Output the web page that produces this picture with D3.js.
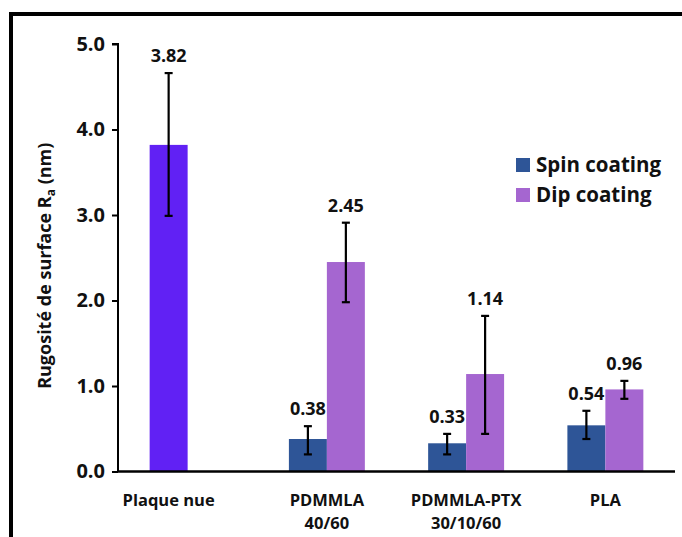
<!DOCTYPE html>
<html>
<head>
<meta charset="utf-8">
<script src="https://cdn.jsdelivr.net/npm/d3@7"></script>
<style>
  body { margin: 0; background: #fff; }
  svg { display: block; font-family: "Open Sans", Lato, sans-serif; font-weight: bold; }
</style>
</head>
<body>
<svg id="chart"></svg>
<script>
// data
let categories = ["Plaque nue", "PDMMLA\n40/60", "PDMMLA-PTX\n30/10/60", "PLA"];
let seriesNames = ["Spin coating", "Dip coating"];
// Plaque nue only has one bar (uncoated plate), drawn in its own colour
let spinValues = [3.82, 0.38, 0.33, 0.54];
let spinErrHigh = [4.66, 0.53, 0.44, 0.71];
let spinErrLow = [2.99, 0.20, 0.20, 0.38];
let dipValues = [null, 2.45, 1.14, 0.96];
let dipErrHigh = [null, 2.91, 1.82, 1.06];
let dipErrLow = [null, 1.98, 0.44, 0.85];
let yTicks = [0, 1, 2, 3, 4, 5];

let width = 682;
let height = 537;

let colors = { "Spin coating": "#2E5597", "Dip coating": "#A566D0", bare: "#6121F4" };

let svg = d3.select("#chart").attr("width", width).attr("height", height);

// frame round the figure
svg.append("rect")
  .attr("x", 11).attr("y", 14)
  .attr("width", 700).attr("height", 560)
  .attr("fill", "none").attr("stroke", "#000").attr("stroke-width", 4);

let plotLeft = 118, plotRight = 675, plotTop = 44, plotBottom = 471.5;

let xScale = d3.scaleBand()
  .domain(categories)
  .range([plotLeft, plotRight])
  .paddingInner(0.4545)
  .paddingOuter(0.2273);

let xSub = d3.scaleBand()
  .domain(seriesNames)
  .range([0, xScale.bandwidth()]);

let yScale = d3.scaleLinear().domain([0, 5]).range([plotBottom, plotTop]);

// build rows for the bars
let rows = [];
categories.forEach((c, i) => {
  rows.push({ cat: c, series: "Spin coating", value: spinValues[i], hi: spinErrHigh[i], lo: spinErrLow[i], bare: dipValues[i] === null });
  if (dipValues[i] !== null) {
    rows.push({ cat: c, series: "Dip coating", value: dipValues[i], hi: dipErrHigh[i], lo: dipErrLow[i], bare: false });
  }
});

let barX = (d) => xScale(d.cat) + xSub(d.series);
let barCenter = (d) => barX(d) + xSub.bandwidth() / 2;

// bars
svg.selectAll("rect.bar")
  .data(rows)
  .enter()
  .append("rect")
  .attr("class", "bar")
  .attr("x", barX)
  .attr("width", xSub.bandwidth())
  .attr("y", (d) => yScale(d.value))
  .attr("height", (d) => yScale(0) - yScale(d.value))
  .attr("fill", (d) => (d.bare ? colors.bare : colors[d.series]));

// error bars
let err = svg.selectAll("g.err").data(rows).enter().append("g").attr("class", "err")
  .attr("stroke", "#000").attr("stroke-width", 2.2);
err.append("line")
  .attr("x1", barCenter).attr("x2", barCenter)
  .attr("y1", (d) => yScale(d.hi)).attr("y2", (d) => yScale(d.lo));
err.append("line")
  .attr("x1", (d) => barCenter(d) - 4).attr("x2", (d) => barCenter(d) + 4)
  .attr("y1", (d) => yScale(d.hi)).attr("y2", (d) => yScale(d.hi));
err.append("line")
  .attr("x1", (d) => barCenter(d) - 4).attr("x2", (d) => barCenter(d) + 4)
  .attr("y1", (d) => yScale(d.lo)).attr("y2", (d) => yScale(d.lo));

// value labels
svg.selectAll("text.val")
  .data(rows)
  .enter()
  .append("text")
  .attr("class", "val")
  .attr("x", barCenter)
  .attr("y", (d) => yScale(d.hi) - 11)
  .attr("text-anchor", "middle")
  .style("font-size", "18px")
  .style("fill", "#111")
  .text((d) => d.value.toFixed(2));

// y axis
let yAxis = d3.axisLeft(yScale).tickValues(yTicks).tickFormat(d3.format(".1f")).tickSize(6).tickPadding(7);
let gy = svg.append("g").attr("transform", `translate(${plotLeft}, 0)`).call(yAxis);
gy.select(".domain").attr("stroke-width", 2).attr("d", `M-6,${plotTop}H0V${plotBottom}`);
gy.selectAll(".tick line").attr("stroke-width", 2);
gy.selectAll(".tick text").style("font-size", "20px").style("font-weight", "bold").style("font-family", "'Open Sans', sans-serif").attr("fill", "#111");

// x baseline
svg.append("line")
  .attr("x1", plotLeft).attr("x2", plotRight)
  .attr("y1", yScale(0)).attr("y2", yScale(0))
  .attr("stroke", "#000").attr("stroke-width", 2.5);

// category labels
categories.forEach((c, i) => {
  let cx = dipValues[i] === null
    ? xScale(c) + xSub("Spin coating") + xSub.bandwidth() / 2
    : xScale(c) + xScale.bandwidth() / 2;
  let t = svg.append("text")
    .attr("x", cx).attr("y", 506)
    .attr("text-anchor", "middle")
    .style("font-size", "16.5px")
    .style("fill", "#111");
  c.split("\n").forEach((line, j) => {
    t.append("tspan").attr("x", cx).attr("dy", j === 0 ? 0 : 23).text(line);
  });
});

// y axis title
let yt = svg.append("text")
  .attr("transform", `translate(51, ${(plotTop + plotBottom) / 2 + 8}) rotate(-90)`)
  .attr("text-anchor", "middle")
  .style("font-size", "18px")
  .style("fill", "#111");
yt.append("tspan").text("Rugosité de surface R");
yt.append("tspan").attr("dy", 4).style("font-size", "12px").text("a");
yt.append("tspan").attr("dy", -4).text(" (nm)");

// legend
let legend = svg.selectAll("g.leg").data(seriesNames).enter().append("g")
  .attr("class", "leg")
  .attr("transform", (d, i) => `translate(516, ${158 + i * 30})`);
legend.append("rect").attr("width", 14).attr("height", 14).attr("fill", (d) => colors[d]);
legend.append("text").attr("x", 20).attr("y", 14).style("font-size", "20.5px").style("fill", "#111").text((d) => d);
</script>
</body>
</html>
